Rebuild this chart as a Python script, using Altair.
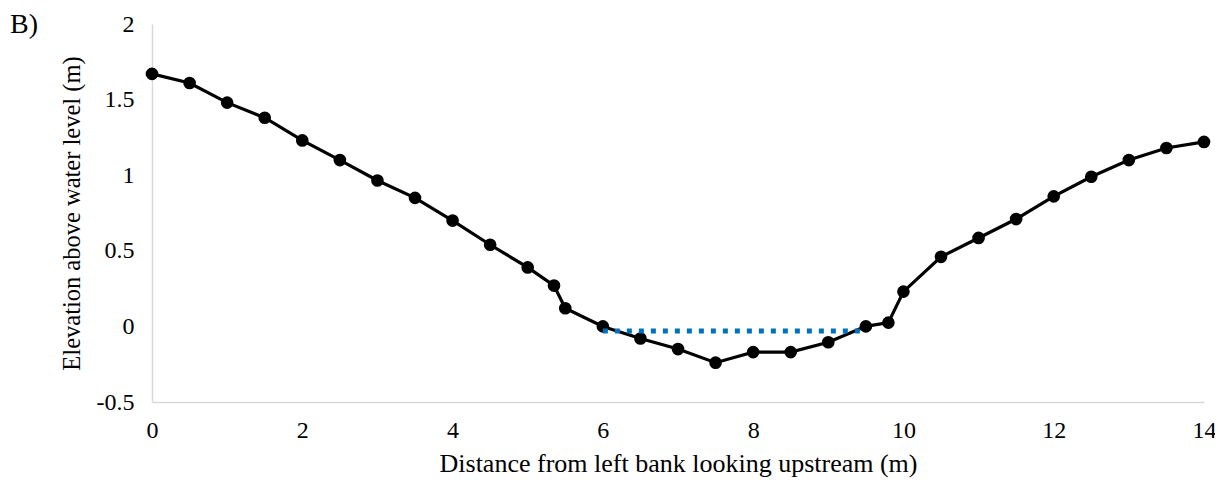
import altair as alt
import pandas as pd

distance = [0, 0.5, 1, 1.5, 2, 2.5, 3, 3.5, 4, 4.5, 5, 5.35, 5.5, 6, 6.5, 7, 7.5,
            8, 8.5, 9, 9.5, 9.8, 10, 10.5, 11, 11.5, 12, 12.5, 13, 13.5, 14]
elevation = [1.67, 1.61, 1.48, 1.38, 1.23, 1.10, 0.965, 0.85, 0.70, 0.54, 0.39, 0.27, 0.12,
             0.0, -0.08, -0.15, -0.24, -0.17, -0.17, -0.105, 0.0, 0.025, 0.23, 0.46, 0.585,
             0.71, 0.86, 0.99, 1.10, 1.18, 1.22]
water_x = [6.0, 9.5]
water_y = [-0.03, -0.03]
x_ticks = [0, 2, 4, 6, 8, 10, 12, 14]
y_ticks = [-0.5, 0, 0.5, 1, 1.5, 2]

df = pd.DataFrame({"x": distance, "y": elevation})
wf = pd.DataFrame({"x": water_x, "y": water_y})

FONT = "Liberation Serif"

xs = alt.Scale(domain=[0, 14], nice=False, zero=False)
ys = alt.Scale(domain=[-0.5, 2], nice=False, zero=False)

xax = alt.Axis(values=x_ticks, title="Distance from left bank looking upstream (m)",
               labelExpr="'' + datum.value", labelFlush=False, labelOverlap=False,
               grid=False, ticks=False, domainColor="#d9d9d9", domainWidth=1.5,
               labelFont=FONT, labelFontSize=24, labelColor="#000", labelPadding=16,
               titleFont=FONT, titleFontSize=26, titleFontWeight="normal", titleColor="#000",
               titlePadding=8)
yax = alt.Axis(values=y_ticks, title="Elevation above water level (m)",
               labelExpr="'' + datum.value", labelFlush=False, labelOverlap=False,
               grid=False, ticks=False, domainColor="#d9d9d9", domainWidth=1.5,
               labelFont=FONT, labelFontSize=24, labelColor="#000", labelPadding=18,
               titleFont=FONT, titleFontSize=24.5, titleFontWeight="normal", titleColor="#000",
               titlePadding=12)

base = alt.Chart(df)
line = base.mark_line(color="black", strokeWidth=3.2).encode(
    x=alt.X("x:Q", scale=xs, axis=xax), y=alt.Y("y:Q", scale=ys, axis=yax))
pts = base.mark_point(filled=True, color="black", size=160, opacity=1).encode(
    x=alt.X("x:Q", scale=xs), y=alt.Y("y:Q", scale=ys))
water = alt.Chart(wf).mark_line(color="#0070C0", strokeWidth=5, strokeDash=[5, 7]).encode(
    x=alt.X("x:Q", scale=xs), y=alt.Y("y:Q", scale=ys))
label = alt.Chart(pd.DataFrame({"t": ["B)"]})).mark_text(
    font=FONT, fontSize=28, align="left", baseline="middle", color="black").encode(
    text="t:N", x=alt.value(-142), y=alt.value(1))

chart = alt.layer(line, pts, water, label).properties(
    width=1052, height=378,
    autosize=alt.AutoSizeParams(type="none"),
    padding={"left": 144, "top": 16, "right": 11, "bottom": 76},
).configure_view(stroke=None)

chart.save("out.html", embed_options={"renderer": "svg", "actions": False})
